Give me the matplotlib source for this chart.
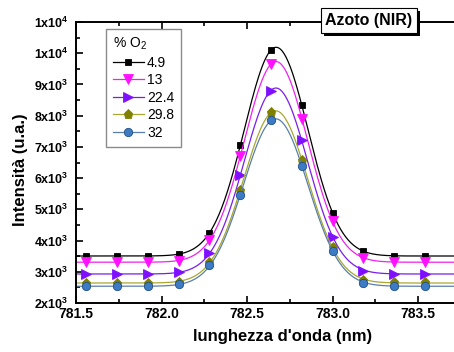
import numpy as np
import matplotlib
matplotlib.use("Agg")
import matplotlib.pyplot as plt
from matplotlib.ticker import MultipleLocator
from matplotlib import patheffects

plt.rcParams['font.family'] = ['Liberation Sans', 'DejaVu Sans']
plt.rcParams['mathtext.fontset'] = 'custom'
plt.rcParams['mathtext.rm'] = 'Liberation Sans'
plt.rcParams['mathtext.it'] = 'Liberation Sans:italic'
plt.rcParams['mathtext.bf'] = 'Liberation Sans:bold'

# data
wavelength = [781.56, 781.74, 781.92, 782.10, 782.28, 782.46,
              782.64, 782.82, 783.00, 783.18, 783.36, 783.54]
o2_labels = ["4.9", "13", "22.4", "29.8", "32"]
int_49 = [3510, 3510, 3510, 3555, 4240, 7050, 10100, 8330, 4880, 3660, 3510, 3510]
int_13 = [3320, 3320, 3320, 3350, 4010, 6700, 9660, 7900, 4620, 3430, 3300, 3300]
int_224 = [2940, 2940, 2940, 2980, 3600, 6090, 8800, 7210, 4100, 3030, 2930, 2930]
int_298 = [2640, 2640, 2640, 2670, 3310, 5610, 8110, 6570, 3780, 2730, 2660, 2660]
int_32 = [2540, 2540, 2540, 2600, 3210, 5450, 7850, 6390, 3670, 2630, 2540, 2540]
xticks = [781.5, 782.0, 782.5, 783.0, 783.5]
xtick_labels = ["781.5", "782.0", "782.5", "783.0", "783.5"]
yticks = [2000, 3000, 4000, 5000, 6000, 7000, 8000, 9000, 10000, 11000]

series = [int_49, int_13, int_224, int_298, int_32]
line_cols = ['black', '#ee22ee', '#7a1ee6', '#a8a830', '#5a7fa8']
mark_cols = ['black', '#ff10ff', '#7f10ff', '#808000', '#3d7cc4']
mark_edge = ['black', '#ff10ff', '#7f10ff', '#808000', '#1f4f8a']
markers = ['s', 'v', '>', 'p', 'o']
msizes = [5, 6.5, 6.5, 6.5, 6]


def gauss_fit(x, y):
    # baseline + gaussian, Gauss-Newton
    x = np.asarray(x, float)
    y = np.asarray(y, float)
    p = np.array([y.min(), y.max() - y.min(), x[np.argmax(y)], 0.2])
    for _ in range(100):
        y0, A, xc, w = p
        g = np.exp(-(x - xc) ** 2 / (2 * w ** 2))
        r = y - (y0 + A * g)
        J = np.column_stack([np.ones_like(x), g,
                             A * g * (x - xc) / w ** 2,
                             A * g * (x - xc) ** 2 / w ** 3])
        step = np.linalg.lstsq(J, r, rcond=None)[0]
        p = p + 0.7 * step
    return p


def ylab(v):
    e = int(np.floor(np.log10(v)))
    m = int(round(v / 10 ** e))
    return r"$\mathbf{%dx10^{%d}}$" % (m, e)


fig = plt.figure(figsize=(4.54, 3.52), dpi=100)
ax = fig.add_axes([76 / 454, 49 / 352, 385 / 454, 281 / 352])

xs = np.linspace(781.5, 783.75, 400)
handles = []
for i, yv in enumerate(series):
    y0, A, xc, w = gauss_fit(wavelength, yv)
    curve, = ax.plot(xs, y0 + A * np.exp(-(xs - xc) ** 2 / (2 * w ** 2)),
                     color=line_cols[i], lw=0.9)
    pts, = ax.plot(wavelength, yv, ls='none', marker=markers[i], ms=msizes[i],
                   mfc=mark_cols[i], mec=mark_edge[i], mew=0.6)
    handles.append((curve, pts))

ax.set_xlim(781.5, 783.75)
ax.set_ylim(2000, 11000)
ax.set_xticks(xticks, xtick_labels, fontsize=10, fontweight='bold')
ax.set_yticks(yticks, [ylab(v) for v in yticks], fontsize=9)
ax.xaxis.set_minor_locator(MultipleLocator(0.25))
ax.yaxis.set_minor_locator(MultipleLocator(500))
ax.tick_params(which='both', direction='in', top=True, right=True, width=1.2)
ax.tick_params(which='major', length=4.8)
ax.tick_params(which='minor', length=2.9)
ax.tick_params(axis='y', pad=5.5)
ax.tick_params(axis='x', pad=3)
for s in ax.spines.values():
    s.set_linewidth(1.4)

ax.set_xlabel("lunghezza d'onda (nm)", fontsize=12, fontweight='bold')
ax.xaxis.set_label_coords((283 - 76) / 385, -(329 - 303) / 281)
ax.set_ylabel("Intensità (u.a.)", fontsize=12, fontweight='bold')
ax.yaxis.set_label_coords((28 - 76) / 385, (303 - 170) / 281)

leg = ax.legend(handles, o2_labels, title="% O$_2$", fontsize=10, title_fontsize=10,
                loc='upper left', bbox_to_anchor=(106 / 454, 1 - 29 / 352),
                bbox_transform=fig.transFigure, borderaxespad=0, fancybox=False,
                edgecolor='#8a8a8a', framealpha=1, labelspacing=0.25,
                handlelength=2.2, handletextpad=0.25, borderpad=0.5,
                alignment='left', numpoints=1)
leg.get_frame().set_linewidth(1.0)

# title box with a drop shadow
title = fig.text(369 / 454, 1 - 20.5 / 352, "Azoto (NIR)", ha='center', va='center',
                 fontsize=11.5, fontweight='bold', color='black',
                 bbox=dict(boxstyle='square,pad=0.3', fc='white', ec='black', lw=0.8))
title.get_bbox_patch().set_path_effects([
    patheffects.SimplePatchShadow(offset=(2.2, -2.2), shadow_rgbFace='black', alpha=1),
    patheffects.Normal()])

fig.savefig("out.png", dpi=100)
